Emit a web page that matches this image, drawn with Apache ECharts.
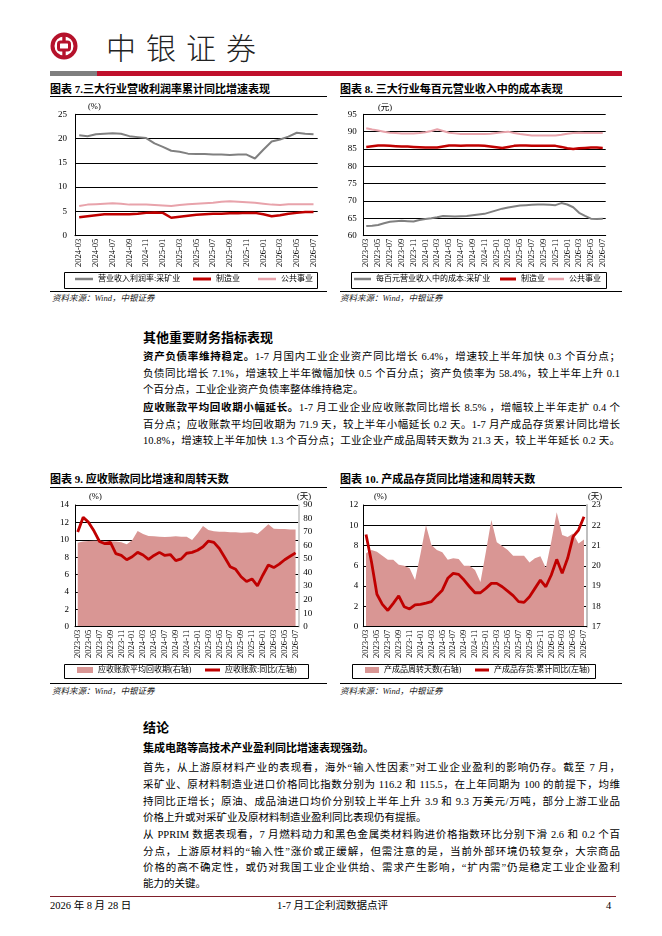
<!DOCTYPE html>
<html><head><meta charset="utf-8">
<script src="https://cdn.jsdelivr.net/npm/echarts@6/dist/echarts.min.js"></script>
<style>
body{margin:0;width:662px;height:936px;position:relative;background:#fff;font-family:"Liberation Serif","Noto Sans CJK SC",serif;color:#000;overflow:hidden}
.a{position:absolute}
.ttl{position:absolute;font-weight:bold;font-size:11px;line-height:14px;white-space:nowrap}
.hl{position:absolute;height:1px;background:#000}
.src{position:absolute;font-style:italic;font-size:8.5px;line-height:10px;color:#222;white-space:nowrap}
.p{position:absolute;left:143px;width:477px;font-size:10.5px;line-height:14px;text-align:justify;text-align-last:justify}
.pl{text-align-last:left}
.h{position:absolute;left:143px;font-weight:bold;font-size:13px;line-height:16px;white-space:nowrap}
.ch{position:absolute}
.ft{position:absolute;font-size:10.5px;line-height:14px;white-space:nowrap}
</style></head>
<body>
<svg class="a" style="left:50px;top:32px" width="28" height="28" viewBox="0 0 28 28">
 <circle cx="14" cy="14" r="11.5" fill="none" stroke="#B5122B" stroke-width="4"/>
 <rect x="8.5" y="10" width="11" height="8" rx="2" fill="none" stroke="#B5122B" stroke-width="3"/>
 <rect x="12.3" y="3" width="3.4" height="7" fill="#B5122B"/>
 <rect x="12.3" y="18" width="3.4" height="7" fill="#B5122B"/>
</svg>
<div class="a" style="left:106px;top:26px;font-size:30px;line-height:40px;letter-spacing:10px;font-family:'Noto Sans CJK SC';font-weight:300;color:#222;white-space:nowrap">中银证券</div>
<div class="a" style="left:50px;top:71px;width:47px;height:5px;background:#7F7F7F"></div>
<div class="a" style="left:97px;top:71px;width:525px;height:5px;background:#C0102C"></div>

<div class="ttl" style="left:50px;top:82px">图表 7.三大行业营收利润率累计同比增速表现</div>
<div class="hl" style="left:50px;top:96px;width:277px"></div>
<div class="ttl" style="left:340px;top:82px">图表 8. 三大行业每百元营业收入中的成本表现</div>
<div class="hl" style="left:340px;top:96px;width:282px"></div>
<div class="hl" style="left:50px;top:291px;width:277px"></div>
<div class="hl" style="left:340px;top:291px;width:282px"></div>
<div class="src" style="left:52px;top:293px">资料来源：Wind，中银证券</div>
<div class="src" style="left:340px;top:293px">资料来源：Wind，中银证券</div>

<div class="ch" id="c7" style="left:40px;top:98px;width:290px;height:192px"></div>
<div class="ch" id="c8" style="left:335px;top:98px;width:290px;height:192px"></div>

<div class="h" style="top:330px">其他重要财务指标表现</div>
<div class="p" style="top:350px"><b>资产负债率维持稳定。</b>1-7 月国内工业企业资产同比增长 6.4%，增速较上半年加快 0.3 个百分点；</div>
<div class="p" style="top:367px">负债同比增长 7.1%，增速较上半年微幅加快 0.5 个百分点；资产负债率为 58.4%，较上半年上升 0.1</div>
<div class="p pl" style="top:383px">个百分点，工业企业资产负债率整体维持稳定。</div>
<div class="p" style="top:401px"><b>应收账款平均回收期小幅延长。</b>1-7 月工业企业应收账款同比增长 8.5% ，增幅较上半年走扩 0.4 个</div>
<div class="p" style="top:418px">百分点；应收账款平均回收期为 71.9 天，较上半年小幅延长 0.2 天。1-7 月产成品存货累计同比增长</div>
<div class="p" style="top:434px">10.8%，增速较上半年加快 1.3 个百分点；工业企业产成品周转天数为 21.3 天，较上半年延长 0.2 天。</div>

<div class="ttl" style="left:50px;top:472px">图表 9. 应收账款同比增速和周转天数</div>
<div class="hl" style="left:50px;top:487px;width:277px"></div>
<div class="ttl" style="left:340px;top:472px">图表 10. 产成品存货同比增速和周转天数</div>
<div class="hl" style="left:340px;top:487px;width:282px"></div>
<div class="hl" style="left:50px;top:683px;width:277px"></div>
<div class="hl" style="left:340px;top:683px;width:282px"></div>
<div class="src" style="left:52px;top:686px">资料来源：Wind，中银证券</div>
<div class="src" style="left:340px;top:686px">资料来源：Wind，中银证券</div>

<div class="ch" id="c9" style="left:40px;top:488px;width:290px;height:195px"></div>
<div class="ch" id="c10" style="left:335px;top:488px;width:290px;height:195px"></div>

<div class="h" style="top:720px">结论</div>
<div class="h" style="top:741px;font-size:11px;line-height:14px">集成电路等高技术产业盈利同比增速表现强劲。</div>
<div class="p" style="top:761px">首先，从上游原材料产业的表现看，海外“输入性因素”对工业企业盈利的影响仍存。截至 7 月，</div>
<div class="p" style="top:778px">采矿业、原材料制造业进口价格同比指数分别为 116.2 和 115.5，在上年同期为 100 的前提下，均维</div>
<div class="p" style="top:795px">持同比正增长；原油、成品油进口均价分别较上半年上升 3.9 和 9.3 万美元/万吨，部分上游工业品</div>
<div class="p pl" style="top:811px">价格上升或对采矿业及原材料制造业盈利同比表现仍有提振。</div>
<div class="p" style="top:828px">从 PPRIM 数据表现看，7 月燃料动力和黑色金属类材料购进价格指数环比分别下滑 2.6 和 0.2 个百</div>
<div class="p" style="top:845px">分点，上游原材料的“输入性”涨价或正缓解，但需注意的是，当前外部环境仍较复杂，大宗商品</div>
<div class="p" style="top:861px">价格的高不确定性，或仍对我国工业企业供给、需求产生影响，“扩内需”仍是稳定工业企业盈利</div>
<div class="p pl" style="top:877px">能力的关键。</div>

<div class="a" style="left:50px;top:896px;width:566px;height:1px;background:#7F1F2A"></div>
<div class="ft" style="left:50px;top:899px">2026 年 8 月 28 日</div>
<div class="ft" style="left:277px;top:899px">1-7 月工企利润数据点评</div>
<div class="ft" style="left:606px;top:899px">4</div>

<script>
const FONT = '"Liberation Serif","Noto Sans CJK SC",serif';

// ---- Data ----
const cats7 = ['2024-03','2024-04','2024-05','2024-06','2024-07','2024-08','2024-09','2024-10','2024-11','2024-12',
  '2025-01','2025-02','2025-03','2025-04','2025-05','2025-06','2025-07','2025-08','2025-09','2025-10','2025-11','2025-12',
  '2026-01','2026-02','2026-03','2026-04','2026-05','2026-06','2026-07'];
const mining7 = [20.7,20.5,20.9,21.0,21.1,21.0,20.5,20.3,20.1,19.0,18.3,17.5,17.3,16.9,16.8,16.8,16.7,16.7,16.6,16.7,16.7,15.9,17.7,19.4,19.8,20.4,21.2,21.0,20.9];
const manu7 = [3.8,4.0,4.2,4.4,4.4,4.4,4.4,4.5,4.7,4.8,4.7,3.7,3.9,4.1,4.3,4.4,4.5,4.5,4.6,4.6,4.7,4.7,4.4,4.0,4.2,4.5,4.7,4.9,4.9];
const util7 = [6.1,6.4,6.5,6.6,6.7,6.6,6.4,6.4,6.4,6.3,6.2,6.1,6.3,6.5,6.6,6.7,6.8,7.0,7.1,7.0,6.9,6.8,6.6,6.4,6.3,6.5,6.5,6.5,6.5];

const cats41 = ['2023-03','2023-04','2023-05','2023-06','2023-07','2023-08','2023-09','2023-10','2023-11','2023-12',
  '2024-01','2024-02','2024-03','2024-04','2024-05','2024-06','2024-07','2024-08','2024-09','2024-10','2024-11','2024-12',
  '2025-01','2025-02','2025-03','2025-04','2025-05','2025-06','2025-07','2025-08','2025-09','2025-10','2025-11','2025-12',
  '2026-01','2026-02','2026-03','2026-04','2026-05','2026-06','2026-07'];
const mining8 = [62.8,62.9,63.1,63.6,64.0,64.2,64.3,64.2,64.1,64.5,
  64.8,65.0,65.3,65.7,65.6,65.5,65.6,65.7,65.9,66.1,66.3,66.8,
  67.3,67.8,68.1,68.4,68.7,68.8,68.9,69.0,69.0,68.9,68.8,69.4,
  69.0,68.2,66.6,65.7,64.9,64.8,64.9];
const manu8 = [85.6,85.8,86.0,86.0,85.9,85.8,85.7,85.7,85.6,85.5,
  85.4,85.4,85.4,85.7,86.0,86.0,85.9,86.0,86.0,86.0,85.9,85.7,
  85.5,85.3,85.6,85.9,86.0,86.0,85.9,85.9,85.9,85.9,85.9,85.6,
  85.2,85.0,85.2,85.3,85.4,85.4,85.3];
const util8 = [91.0,90.6,90.3,90.0,89.7,89.6,89.5,89.5,89.5,89.6,
  89.8,90.2,90.7,90.2,89.7,89.5,89.3,89.3,89.3,89.3,89.3,89.4,
  89.6,89.8,90.0,89.6,89.3,89.1,88.9,88.9,88.9,88.9,88.9,89.1,
  89.4,89.6,89.7,89.6,89.6,89.6,89.6];

const recvDays = [62.0,63.0,63.4,63.5,63.5,63.3,63.2,63.0,62.5,61.0,
  64.0,70.8,68.5,67.1,66.8,66.6,66.3,66.6,66.8,66.6,66.6,64.1,
  69.0,74.5,71.5,70.5,70.3,70.3,69.8,69.8,69.5,69.6,69.8,68.5,
  72.0,75.7,72.5,72.2,72.2,71.8,71.9];
const recvYoy = [10.9,12.6,12.0,11.0,9.8,9.55,9.7,8.4,8.2,7.7,
  8.05,8.55,8.25,7.75,8.2,8.55,8.2,8.3,7.6,7.8,8.45,8.55,
  8.8,9.2,9.85,9.7,9.0,7.95,6.9,6.6,5.75,5.2,5.5,4.7,
  5.95,7.1,6.8,7.2,7.7,8.1,8.5];

const invDays = [20.62,20.78,20.7,20.5,20.3,20.3,20.05,20.0,19.88,19.3,
  20.6,22.0,21.03,20.78,20.67,20.3,20.37,20.34,20.0,20.0,19.8,19.2,
  20.7,22.26,21.16,20.98,20.78,20.5,20.5,20.5,20.17,20.37,20.47,19.9,
  21.2,22.64,21.52,21.42,21.6,21.1,21.3];
const invYoy = [9.1,6.4,3.2,2.2,1.6,2.3,3.05,1.97,1.75,2.15,
  2.2,2.33,2.47,3.06,3.6,4.77,5.26,5.16,4.6,3.94,3.35,3.35,
  3.78,4.27,4.27,3.94,3.5,3.06,2.47,2.4,2.96,3.78,4.6,3.94,
  5.1,6.64,5.26,6.74,8.88,9.53,10.85];

// ---- Helpers ----
const GREY = '#808080', RED = '#C00000', PINK = '#E8A3AB', AREA = '#D99694';
function xAx(cats){
  return {type:'category',data:cats,boundaryGap:true,z:10,
    axisLine:{lineStyle:{color:'#000',width:1}},axisTick:{show:false},
    axisLabel:{rotate:90,interval:1,fontSize:8.5,color:'#000',fontFamily:FONT,margin:3}};
}
function yAx(min,max,step,pos,split,margin,lineColor,lineWidth){
  return {type:'value',min:min,max:max,interval:step,position:pos,
    axisLine:{show:true,lineStyle:{color:lineColor||'#000',width:lineWidth||1}},axisTick:{show:false},
    splitLine:{show:split,lineStyle:{color:'#000',width:1}},
    axisLabel:{fontSize:9,color:'#000',fontFamily:FONT,margin:margin}};
}
function lineS(name,data,color,width,yi){
  return {name:name,type:'line',data:data,yAxisIndex:yi||0,symbol:'none',showSymbol:false,
    lineStyle:{color:color,width:width},itemStyle:{color:color},z:3};
}
function areaS(name,data,color,yi){
  return {name:name,type:'line',data:data,yAxisIndex:yi,symbol:'none',showSymbol:false,
    lineStyle:{width:0,color:color},itemStyle:{color:color},areaStyle:{color:color,opacity:1,origin:'start'},z:2};
}
function box(x,y,w,h){
  return {type:'rect',silent:true,shape:{x:x+0.5,y:y+0.5,width:w,height:h},style:{fill:'none',stroke:'#000',lineWidth:1}};
}
function lbl(t,x,y){
  return {type:'text',silent:true,x:x,y:y,style:{text:t,fontSize:8.5,fontFamily:FONT,fill:'#000',verticalAlign:'middle'}};
}
// one legend component per item so each sits where the reference puts it
function leg(name,left,top,iw,ih){
  return {left:left,top:top,padding:0,itemWidth:iw,itemHeight:ih,selectedMode:false,
    textStyle:{fontSize:8,fontFamily:FONT,color:'#000'},data:[{name:name,icon:'rect'}]};
}
function mk(id,opt){
  const c = echarts.init(document.getElementById(id),null,{renderer:'canvas'});
  opt.animation = false;
  c.setOption(opt);
}

// Chart 7
mk('c7',{
  grid:{left:35,top:16.3,width:242.7,height:121.4},
  xAxis:xAx(cats7),
  yAxis:[yAx(0,25,5,'left',true,8)],
  legend:[leg('营业收入利润率:采矿业',35,177,18,2.5),leg('制造业',153,177,18,3),leg('公共事业',218,177,18,2.5)],
  graphic:[box(24,174,253,16),lbl('(%)',48,9)],
  series:[lineS('营业收入利润率:采矿业',mining7,GREY,2),lineS('制造业',manu7,RED,2.5),lineS('公共事业',util7,PINK,2)]
});
// Chart 8
mk('c8',{
  grid:{left:28.3,top:16.3,width:242.4,height:121.4},
  xAxis:xAx(cats41),
  yAxis:[yAx(60,95,5,'left',true,6.5)],
  legend:[leg('每百元营业收入中的成本:采矿业',19,177,17,2.5),leg('制造业',165,177,16,3),leg('公共事业',213,177,16,2.5)],
  graphic:[box(16,174,255,16),lbl('(元)',43,10)],
  series:[lineS('每百元营业收入中的成本:采矿业',mining8,GREY,2),lineS('制造业',manu8,RED,2.5),lineS('公共事业',util8,PINK,2)]
});
// Chart 9
mk('c9',{
  grid:{left:35,top:17,width:223.3,height:121.7},
  xAxis:xAx(cats41),
  yAxis:[yAx(0,14,2,'left',true,6),yAx(0,90,10,'right',false,5,'#BFBFBF',1.5)],
  legend:[leg('应收账款平均回收期(右轴)',37,178,16,6),leg('应收账款:同比(左轴)',165,178,15,3)],
  graphic:[box(24,176,244,14),lbl('(%)',49,9),lbl('(天)',257,9)],
  series:[areaS('应收账款平均回收期(右轴)',recvDays,AREA,1),lineS('应收账款:同比(左轴)',recvYoy,RED,2.8,0)]
});
// Chart 10
mk('c10',{
  grid:{left:28.3,top:17,width:223.4,height:121.7},
  xAxis:xAx(cats41),
  yAxis:[yAx(0,12,2,'left',true,5),yAx(17,23,1,'right',false,5,'#BFBFBF',2)],
  legend:[leg('产成品周转天数(右轴)',30,178,14,6),leg('产成品存货:累计同比(左轴)',140,178,14,3)],
  graphic:[box(17,176,243,14),lbl('(%)',39,9),lbl('(天)',253,9)],
  series:[areaS('产成品周转天数(右轴)',invDays,AREA,1),lineS('产成品存货:累计同比(左轴)',invYoy,RED,2.8,0)]
});
</script>
</body></html>
